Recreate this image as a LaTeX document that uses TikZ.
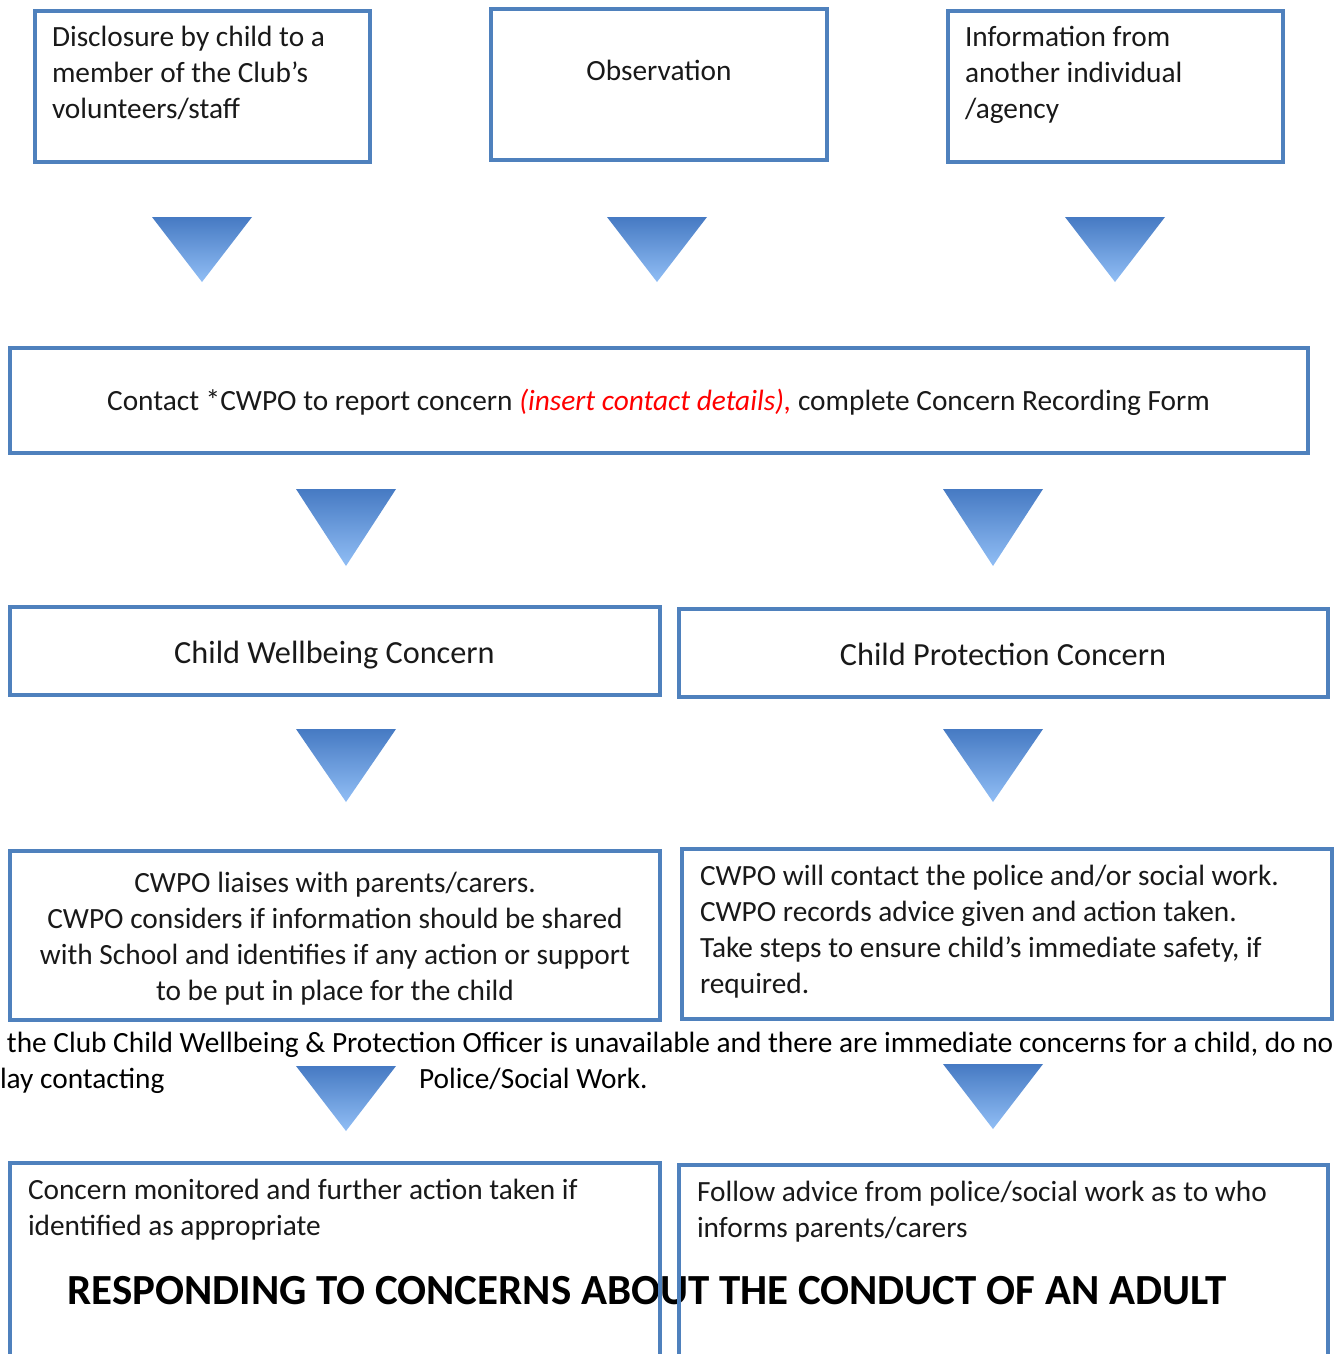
\documentclass[tikz,border=0pt]{standalone}
\usepackage{fontspec}
\setmainfont{Carlito}
\definecolor{bxblue}{RGB}{79,129,189}
\definecolor{txt}{RGB}{25,25,25}
\definecolor{tritop}{RGB}{70,122,195}
\definecolor{tribot}{RGB}{145,190,245}
\definecolor{redtxt}{RGB}{255,0,0}
\newcommand{\flowbox}[6]{%
  \node[#6, minimum width={(#4-#2-4)*0.75pt}, minimum height={(#5-#3-4)*0.75pt}]
    (#1) at ({(#2+#4)/2},{(#3+#5)/2}) {};}
\newcommand{\downtri}[4]{% name, centre x, top y, bottom y
  \shade[tri] (#2-50,#3) -- (#2+50,#3) -- (#2,#4) -- cycle;
  \coordinate (#1) at (#2,#4);}
\begin{document}
\begin{tikzpicture}[x=0.75pt,y=-0.75pt,
  box/.style={draw=bxblue, line width=3.4pt, rectangle, inner sep=0pt, outer sep=0pt},
  thinbox/.style={box, line width=2.3pt},
  lbl/.style={inner sep=0pt, outer sep=0pt, text=txt, font=\fontsize{22}{27}\selectfont},
  biglbl/.style={lbl, font=\fontsize{24.2}{29}\selectfont},
  plain/.style={lbl, text=black},
  tri/.style={top color=tritop, bottom color=tribot, draw=none}]
\useasboundingbox (0,0) rectangle (1337,1354);
\clip (0,0) rectangle (1337,1354);

% title drawn first so the box borders pass over it
\node[plain, anchor=base, font=\fontsize{32.2}{38}\selectfont\bfseries] (title) at (647,1304)
  {RESPONDING TO CONCERNS ABOUT THE CONDUCT OF AN ADULT};

% boxes
\flowbox{b1}{33}{9}{372}{164}{box}
\flowbox{b2}{489}{7}{829}{162}{box}
\flowbox{b3}{946}{9}{1285}{164}{box}
\flowbox{b4}{8}{346}{1310}{455}{box}
\flowbox{b5}{8}{605}{662}{697}{box}
\flowbox{b6}{677}{607}{1330}{699}{box}
\flowbox{b7}{8}{849}{662}{1022}{box}
\flowbox{b8}{680}{847}{1334}{1021}{box}
\flowbox{b9}{8}{1161}{662}{1372}{thinbox}
\flowbox{b10}{677}{1163}{1330}{1372}{thinbox}

% arrows (triangles)
\downtri{a1}{202}{217}{282}
\downtri{a2}{657}{217}{282}
\downtri{a3}{1115}{217}{282}
\downtri{a4}{346}{489}{566}
\downtri{a5}{993}{489}{566}
\downtri{a6}{346}{729}{802}
\downtri{a7}{993}{729}{802}
\downtri{a8}{346}{1066}{1131}
\downtri{a9}{993}{1064}{1129}

% texts (multi-line nodes are anchored at the baseline of their last line)
\node[lbl, anchor=base west, align=left] (t1) at (52,118)
  {Disclosure by child to a\\member of the Club’s\\volunteers/staff};
\node[lbl, anchor=base] (t2) at (659,80) {Observation};
\node[lbl, anchor=base west, align=left] (t3) at (965,118)
  {Information from\\another individual\\/agency};
\node[lbl, anchor=base] (t4) at (658.5,410)
  {Contact *CWPO to report concern {\color{redtxt}\itshape (insert contact details),} complete Concern Recording Form};
\node[biglbl, anchor=base] (t5) at (334.5,663) {Child Wellbeing Concern};
\node[biglbl, anchor=base] (t6) at (1003,665) {Child Protection Concern};
\node[lbl, anchor=base, align=center] (t7) at (335,1000)
  {CWPO liaises with parents/carers.\\CWPO considers if information should be shared\\with School and identifies if any action or support\\to be put in place for the child};
\node[lbl, anchor=base west, align=left] (t8) at (700,993)
  {CWPO will contact the police and/or social work.\\CWPO records advice given and action taken.\\Take steps to ensure child’s immediate safety, if\\required.};
\node[plain, anchor=base west] (o1) at (7,1052)
  {the Club Child Wellbeing \& Protection Officer is unavailable and there are immediate concerns for a child, do no};
\node[plain, anchor=base west] (o2) at (0,1088) {lay contacting};
\node[plain, anchor=base west] (o3) at (419,1088) {Police/Social Work.};
\node[lbl, anchor=base west, align=left] (t9) at (28,1235)
  {Concern monitored and further action taken if\\identified as appropriate};
\node[lbl, anchor=base west, align=left] (t10) at (697,1237)
  {Follow advice from police/social work as to who\\informs parents/carers};
\end{tikzpicture}
\end{document}
